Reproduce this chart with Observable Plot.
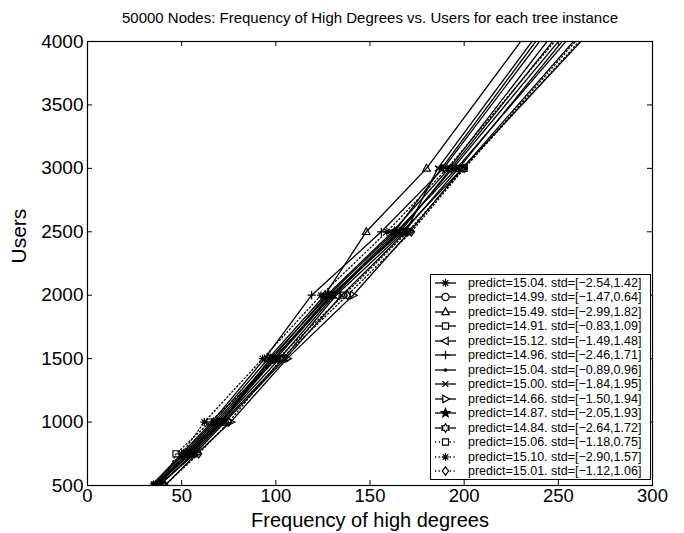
<!DOCTYPE html>
<html><head><meta charset="utf-8">
<script src="https://cdn.jsdelivr.net/npm/d3@7"></script>
<script src="https://cdn.jsdelivr.net/npm/@observablehq/plot@0.6"></script>
<style>
body{margin:0;background:#fff;font-family:"Liberation Sans",Arial,sans-serif;}
#wrap{position:relative;width:684px;height:533px;}
#legend{position:absolute;left:430px;top:274px;width:221px;height:206px;border:1px solid #000;background:#fff;box-sizing:border-box;}
.row{position:absolute;left:0;height:14px;display:flex;align-items:center;font-size:12.5px;color:#000;white-space:nowrap;}
.row svg{margin-left:3px;margin-right:4px;}
</style></head><body><div id="wrap"></div>
<script>
// ---- data ----
const users = [500, 750, 1000, 1500, 2000, 2500, 3000, 5000];
const s1  = [36, 53, 70, 100, 130, 164, 196, 312];
const s2  = [37, 54, 71, 99, 129, 167, 199, 317];
const s3  = [35, 51, 67, 96, 126, 148, 180, 280];
const s4  = [38, 56, 72, 104, 132, 168, 197, 307];
const s5  = [36, 52, 68, 98, 127, 162, 192, 296];
const s6  = [34, 50, 66, 94, 119, 156, 189, 291];
const s7  = [37, 54, 71, 102, 131, 165, 194, 306];
const s8  = [38, 57, 73, 105, 135, 169, 186, 286];
const s9  = [41, 58, 76, 106, 141, 171, 199, 325];
const s10 = [36, 55, 71, 97, 128, 163, 188, 288];
const s11 = [37, 53, 69, 99, 130, 166, 193, 301];
const s12 = [40, 47, 65, 101, 136, 170, 200, 322];
const s13 = [35, 50, 62, 93, 124, 159, 191, 305];
const s14 = [41, 59, 75, 103, 138, 172, 200, 318];
const predict = ["15.04","14.99","15.49","14.91","15.12","14.96","15.04","15.00","14.66","14.87","14.84","15.06","15.10","15.01"];
const stdLo = ["2.54","1.47","2.99","0.83","1.49","2.46","0.89","1.84","1.50","2.05","2.64","1.18","2.90","1.12"];
const stdHi = ["1.42","0.64","1.82","1.09","1.48","1.71","0.96","1.95","1.94","1.93","1.72","0.75","1.57","1.06"];
const xTicks = [0, 50, 100, 150, 200, 250, 300];
const yTicks = [500, 1000, 1500, 2000, 2500, 3000, 3500, 4000];
const seriesX = [s1,s2,s3,s4,s5,s6,s7,s8,s9,s10,s11,s12,s13,s14];

// ---- marker shapes (MATLAB style) ----
const R = s => Math.sqrt(s / Math.PI);
function poly(c, pts){ c.moveTo(pts[0][0], pts[0][1]); for (let i = 1; i < pts.length; i++) c.lineTo(pts[i][0], pts[i][1]); c.closePath(); }
function lines(c, segs){ for (const [a,b,d,e] of segs){ c.moveTo(a,b); c.lineTo(d,e);} }
function star(c, n, ro, ri){ const p=[]; for(let i=0;i<2*n;i++){const r=i%2?ri:ro; const t=-Math.PI/2+i*Math.PI/n; p.push([r*Math.cos(t), r*Math.sin(t)]);} poly(c,p); }
const sym = {
  asterisk: {draw(c,s){const r=R(s)*1.1, q=r*0.707; lines(c,[[-r,0,r,0],[0,-r,0,r],[-q,-q,q,q],[-q,q,q,-q]]);}},
  circle: {draw(c,s){const r=R(s); c.moveTo(r,0); c.arc(0,0,r,0,2*Math.PI);}},
  triUp: {draw(c,s){const r=R(s)*1.15; poly(c,[[0,-r],[r*0.9,r*0.65],[-r*0.9,r*0.65]]);}},
  square: {draw(c,s){const h=R(s)*0.85; poly(c,[[-h,-h],[h,-h],[h,h],[-h,h]]);}},
  triLeft: {draw(c,s){const r=R(s)*1.15; poly(c,[[-r,0],[r*0.65,-r*0.9],[r*0.65,r*0.9]]);}},
  plus: {draw(c,s){const r=R(s)*1.15; lines(c,[[-r,0,r,0],[0,-r,0,r]]);}},
  point: {draw(c,s){const r=1.1; c.moveTo(r,0); c.arc(0,0,r,0,2*Math.PI);}},
  times: {draw(c,s){const q=R(s)*0.8; lines(c,[[-q,-q,q,q],[-q,q,q,-q]]);}},
  triRight: {draw(c,s){const r=R(s)*1.15; poly(c,[[r,0],[-r*0.65,-r*0.9],[-r*0.65,r*0.9]]);}},
  penta: {draw(c,s){const r=R(s)*1.25; star(c,5,r,r*0.42);}},
  hexa: {draw(c,s){const r=R(s)*1.2; star(c,6,r,r*0.58);}},
  diamond: {draw(c,s){const r=R(s)*1.15; poly(c,[[0,-r],[r*0.75,0],[0,r],[-r*0.75,0]]);}}
};
const markers = ["asterisk","circle","triUp","square","triLeft","plus","point","times","triRight","penta","hexa","square","asterisk","diamond"];
const fills   = ["none","none","none","none","none","none","black","none","none","black","none","none","none","none"];
const dashes  = [null,null,null,null,null,null,null,null,null,null,null,"1.2,2.5","1.2,2.5","1.2,2.5"];

// ---- table ----
const table = [];
seriesX.forEach((xs, i) => xs.forEach((x, j) => table.push({series: i, x, y: users[j]})));

const W = 684, H = 533, mL = 87, mR = 32, mT = 41, mB = 48;
const iw = W - mL - mR, ih = H - mT - mB;

const marks = [];
seriesX.forEach((xs, i) => {
  const d = table.filter(r => r.series === i);
  marks.push(Plot.line(d, {x: "x", y: "y", stroke: "black", strokeWidth: 1.3, strokeDasharray: dashes[i], clip: true}));
  marks.push(Plot.dot(d, {x: "x", y: "y", symbol: sym[markers[i]], r: 3.6, stroke: "black", strokeWidth: 1.2, fill: fills[i], clip: true}));
});

const chart = Plot.plot({
  width: W, height: H,
  marginLeft: mL, marginRight: mR, marginTop: mT, marginBottom: mB,
  style: {fontFamily: "'Liberation Sans', Arial, sans-serif", color: "black", background: "white", overflow: "visible"},
  x: {domain: [0, 300], ticks: xTicks},
  y: {domain: [500, 4000], ticks: yTicks},
  marks: [
    ...marks,
    Plot.frame({stroke: "black", strokeWidth: 1.2}),
    Plot.ruleX(xTicks, {x: d => d, insetTop: ih - 5, stroke: "black"}),
    Plot.ruleX(xTicks, {x: d => d, insetBottom: ih - 5, stroke: "black"}),
    Plot.ruleY(yTicks, {y: d => d, insetRight: iw - 5, stroke: "black"}),
    Plot.ruleY(yTicks, {y: d => d, insetLeft: iw - 5, stroke: "black"}),
    Plot.axisX(xTicks, {tickSize: 0, tickPadding: 3, fontSize: 18.5, label: null, tickFormat: d => String(d)}),
    Plot.axisY(yTicks, {tickSize: 0, tickPadding: 4, fontSize: 19, label: null, tickFormat: d => String(d)}),
    Plot.text(["Frequency of high degrees"], {frameAnchor: "bottom", dy: 35, text: d => d, fontSize: 20, lineAnchor: "middle"}),
    Plot.text(["Users"], {frameAnchor: "left", dx: -68, rotate: -90, text: d => d, fontSize: 21, lineAnchor: "middle"}),
    Plot.text(["50000 Nodes: Frequency of High Degrees vs. Users for each tree instance"], {frameAnchor: "top", dy: -19, text: d => d, fontSize: 15, lineAnchor: "bottom"})
  ]
});
const wrap = document.getElementById("wrap");
wrap.appendChild(chart);

// ---- legend (MATLAB style box) ----
const leg = document.createElement("div");
leg.id = "legend";
wrap.appendChild(leg);
predict.forEach((p, i) => {
  const row = document.createElement("div");
  row.className = "row";
  row.style.top = (282.8 - 274 + i * 14.49 - 7 - 1) + "px";
  const svg = d3.create("svg").attr("width", 30).attr("height", 14);
  const l = svg.append("line").attr("x1", 1).attr("x2", 22).attr("y1", 7).attr("y2", 7).attr("stroke", "black").attr("stroke-width", 1.3);
  if (dashes[i]) l.attr("stroke-dasharray", dashes[i]);
  const path = d3.path();
  sym[markers[i]].draw(path, Math.PI * 3.6 * 3.6);
  svg.append("path").attr("d", path.toString()).attr("transform", "translate(11.5,7)")
     .attr("stroke", "black").attr("stroke-width", 1.2).attr("fill", fills[i] === "none" ? "white" : fills[i]);
  row.appendChild(svg.node());
  const t = document.createElement("span");
  t.textContent = `predict=${p}. std=[\u2212${stdLo[i]},${stdHi[i]}]`;
  row.appendChild(t);
  leg.appendChild(row);
});
</script></body></html>
